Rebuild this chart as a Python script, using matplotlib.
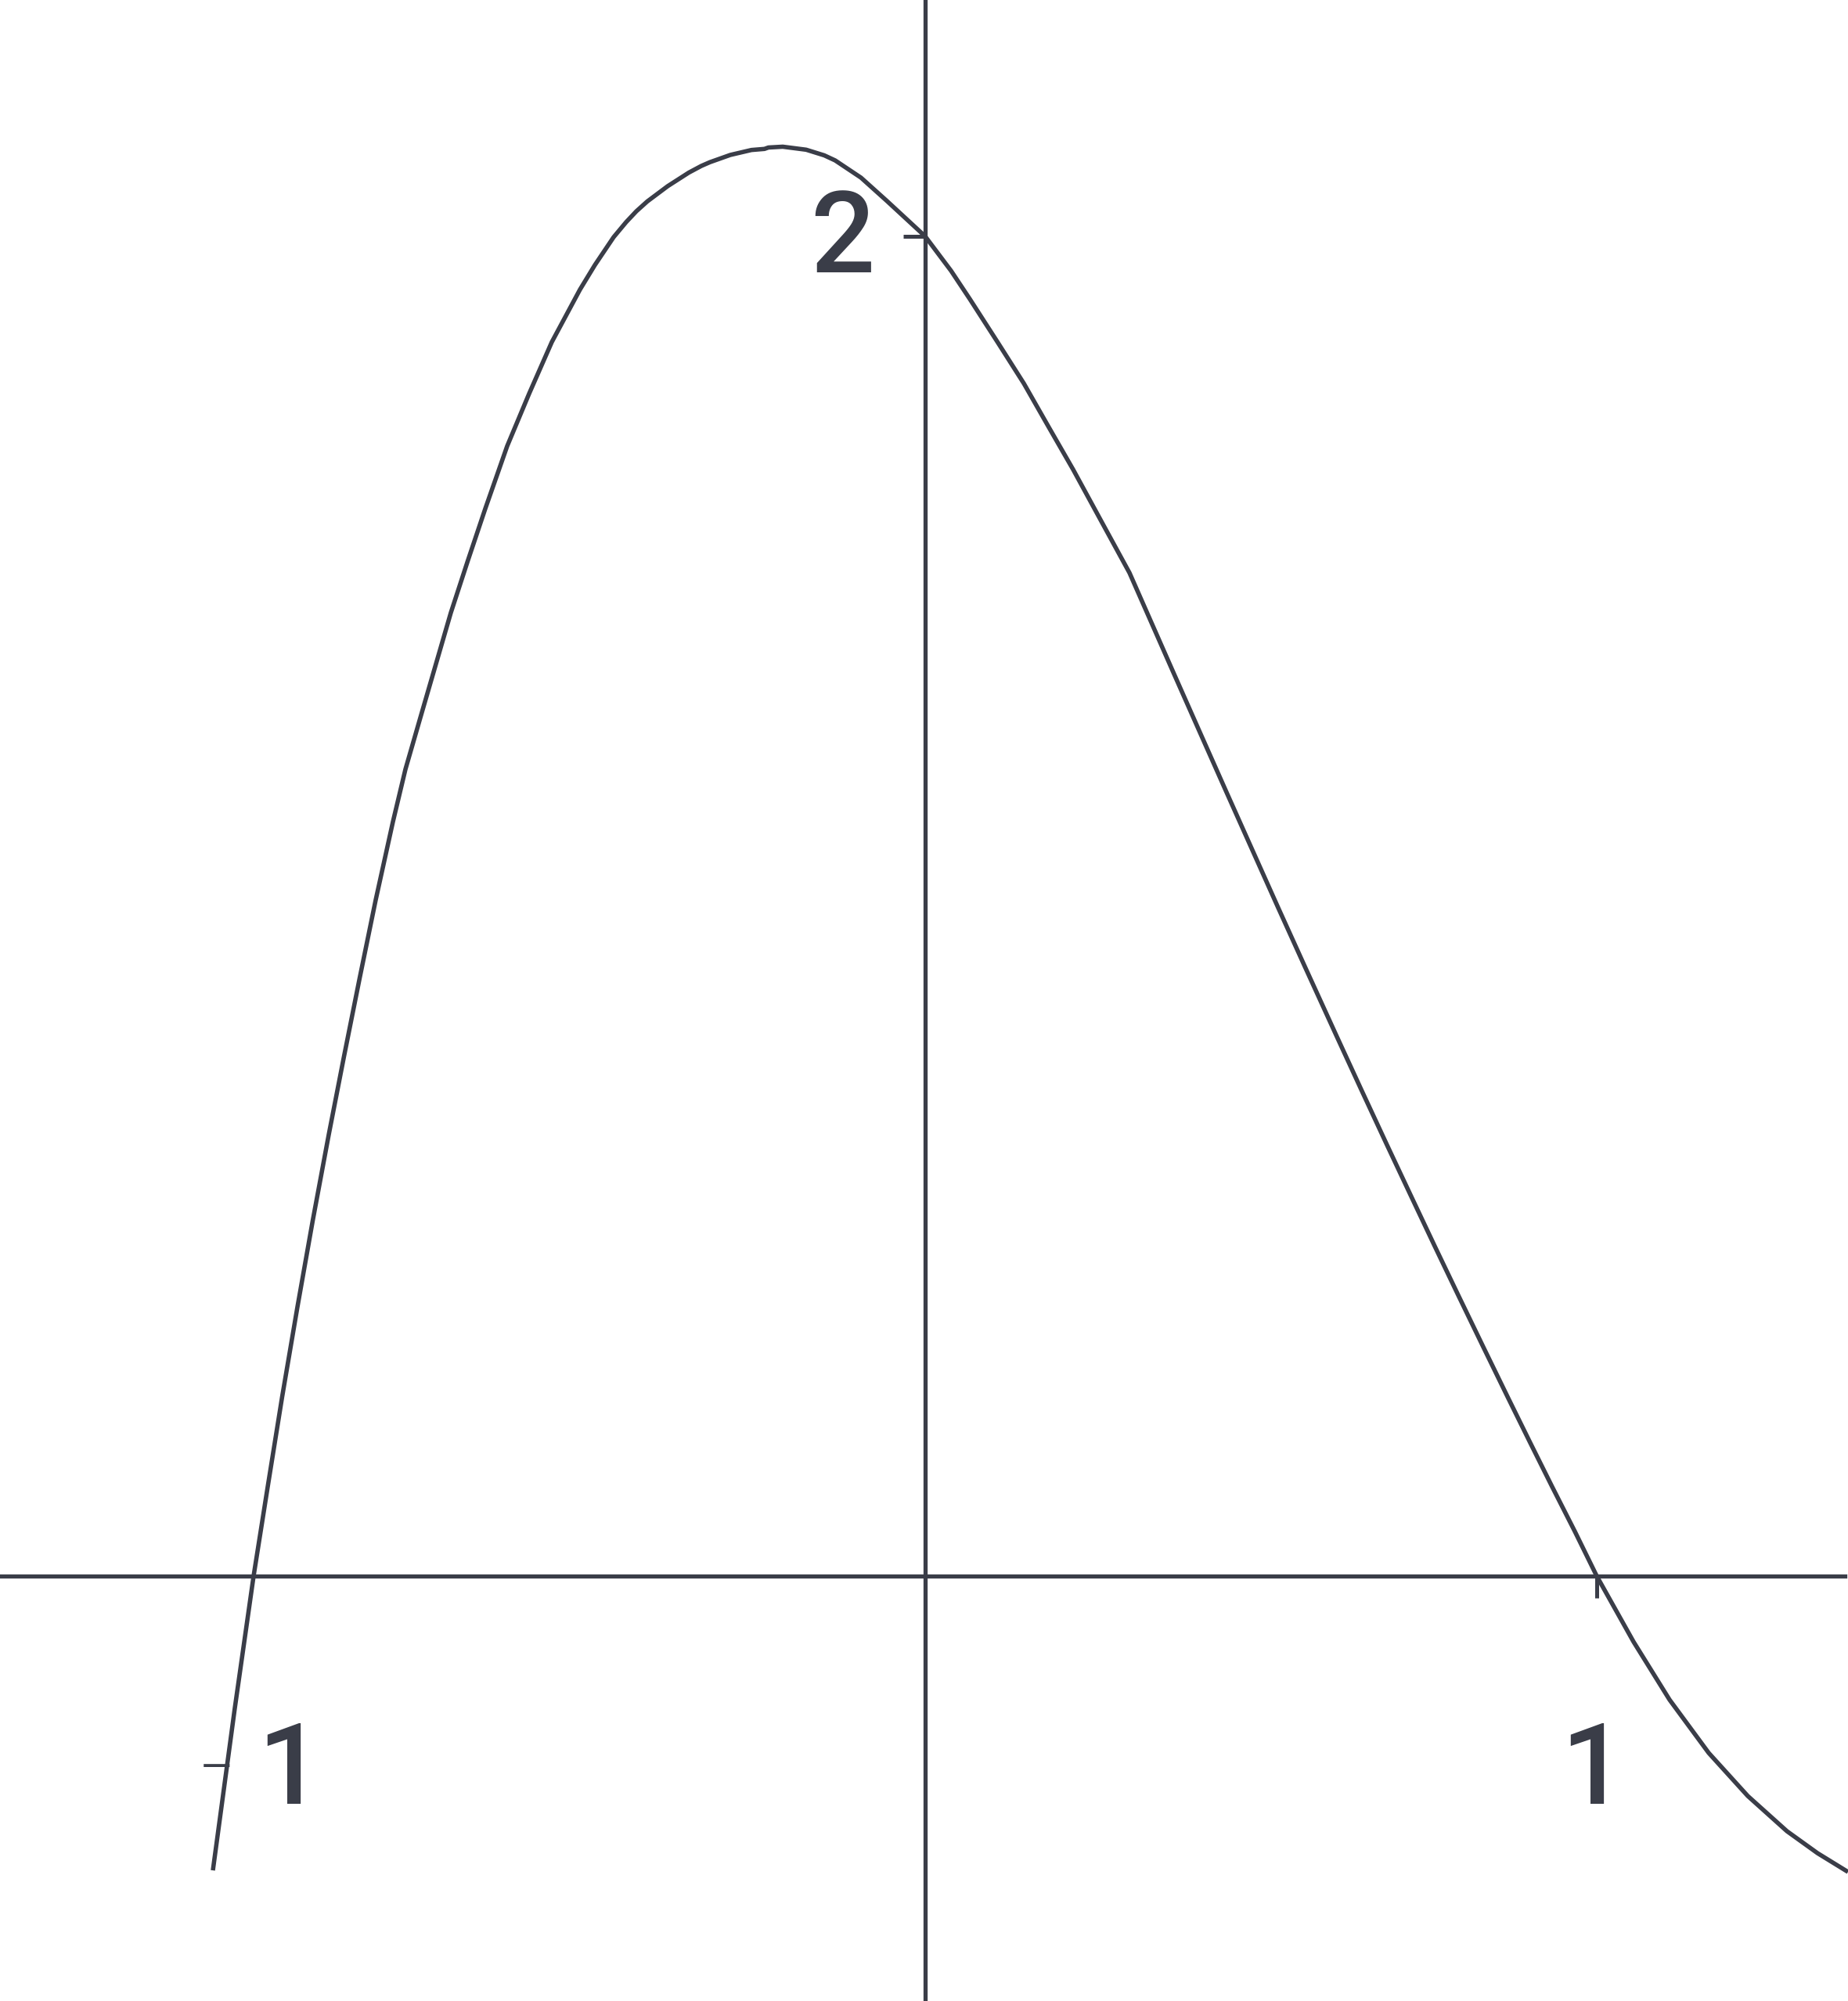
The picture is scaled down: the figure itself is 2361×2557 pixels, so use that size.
import numpy as np
import matplotlib.pyplot as plt

# curve points (x, y in axis units)
curve_x = [-1.0606, -1.0280, -1.0000, -0.9790, -0.9575, -0.9347, -0.9120, -0.8881,
           -0.8654, -0.8421, -0.8182, -0.7925, -0.7739, -0.7517, -0.7290, -0.7063,
           -0.6812, -0.6550, -0.6224, -0.5897, -0.5559, -0.5140, -0.4918, -0.4639,
           -0.4452, -0.4301, -0.4138, -0.3834, -0.3520, -0.3333, -0.3205, -0.2902,
           -0.2587, -0.2393, -0.2334, -0.2121, -0.1772, -0.1503, -0.1340, -0.0956,
           -0.0571, 0.0000, 0.0385, 0.0664, 0.1084, 0.1469, 0.1841, 0.2203,
           0.2622, 0.3042, 0.3706, 0.4091, 0.4487, 0.4872, 0.5256, 0.5653,
           0.6131, 0.6503, 0.6876, 0.7238, 0.7587, 0.7937, 0.8310, 0.8683,
           0.9009, 0.9336, 0.9674, 1.0000, 1.0548, 1.1084, 1.1667, 1.2249,
           1.2832, 1.3287, 1.3741]
curve_y = [-0.4393, -0.1974, 0.0000, 0.1332, 0.2675, 0.4019, 0.5304, 0.6589,
           0.7757, 0.8925, 1.0093, 1.1262, 1.2044, 1.2815, 1.3598, 1.4381,
           1.5152, 1.5935, 1.6869, 1.7652, 1.8423, 1.9206, 1.9572, 1.9988,
           2.0213, 2.0374, 2.0521, 2.0749, 2.0951, 2.1051, 2.1107, 2.1215,
           2.1289, 2.1305, 2.1326, 2.1338, 2.1293, 2.1209, 2.1133, 2.0876,
           2.0529, 2.0000, 1.9486, 1.9065, 1.8411, 1.7804, 1.7150, 1.6519,
           1.5748, 1.4977, 1.3466, 1.2595, 1.1701, 1.0838, 0.9978, 0.9100,
           0.8051, 0.7241, 0.6437, 0.5666, 0.4926, 0.4194, 0.3421, 0.2654,
           0.1991, 0.1333, 0.0666, 0.0000, -0.0981, -0.1846, -0.2640, -0.3283,
           -0.3808, -0.4136, -0.4416]

x_ticks = [1]
x_labels = ['1']
y_ticks = [2]
y_labels = ['2']
neg_label = '1'  # the "-1" label, its minus is drawn thin

ink = '#3a3d48'

fig = plt.figure(figsize=(23.61, 25.57), dpi=100)
ax = fig.add_axes([0, 0, 1, 1])
ax.set_xlim(-1.3776, 1.3741)
ax.set_ylim(-0.6343, 2.3528)

ax.plot(curve_x, curve_y, color=ink, lw=4.0, solid_joinstyle='round',
        solid_capstyle='butt')

# axes through the origin
for side in ['top', 'right']:
    ax.spines[side].set_visible(False)
ax.spines['left'].set_position(('data', 0))
ax.spines['bottom'].set_position(('data', 0))
ax.spines['bottom'].set_bounds(-1.3776, 1.3695)
for side in ['left', 'bottom']:
    ax.spines[side].set_color(ink)
    ax.spines[side].set_linewidth(3.8)
ax.set_xticks(x_ticks)
ax.set_yticks(y_ticks)
ax.set_xticklabels([])
ax.set_yticklabels([])
ax.tick_params(direction='out', length=20, width=3.6, color=ink)

fs = 104
font = dict(family=['Roboto', 'DejaVu Sans'], fontweight=500, color=ink)
for xt, lab in zip(x_ticks, x_labels):
    ax.text(xt - 0.005, -0.340, lab, ha='center', va='baseline', fontsize=fs, **font)
for yt, lab in zip(y_ticks, y_labels):
    ax.text(-0.075, yt - 0.054, lab, ha='right', va='baseline', fontsize=fs, **font)

# "-1" label
ax.text(-0.946, -0.340, neg_label, ha='center', va='baseline', fontsize=fs, **font)
ax.text(-1.055, -0.338, '-', ha='center', va='baseline', fontsize=fs,
        family=['Roboto', 'DejaVu Sans'], fontweight=100, color=ink)

fig.savefig('out.png', dpi=100, facecolor='white')
